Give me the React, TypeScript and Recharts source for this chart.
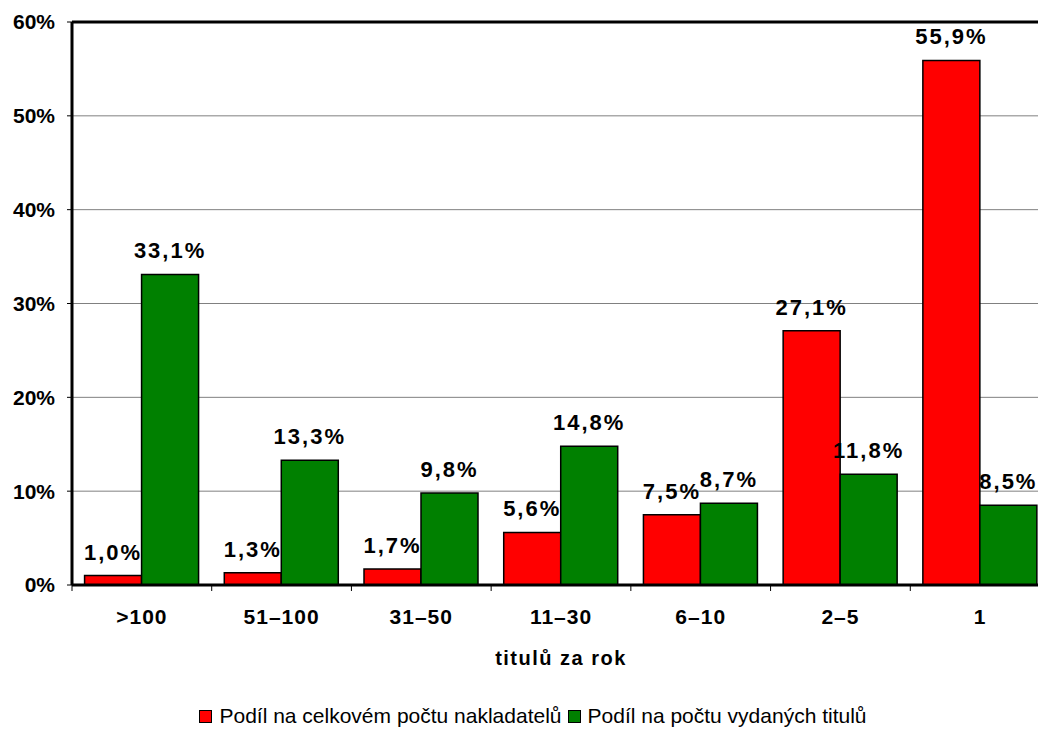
import React from 'react';
import { BarChart, Bar, XAxis, YAxis, CartesianGrid, Legend, LabelList, ReferenceLine, Label } from 'recharts';

const categories = ['>100', '51–100', '31–50', '11–30', '6–10', '2–5', '1'];
const publishersShare = [1.0, 1.3, 1.7, 5.6, 7.5, 27.1, 55.9];
const titlesShare = [33.1, 13.3, 9.8, 14.8, 8.7, 11.8, 8.5];
const yTicks = [0, 10, 20, 30, 40, 50, 60];

const seriesNames = ['Podíl na celkovém počtu nakladatelů', 'Podíl na počtu vydaných titulů'];
const seriesColors = ['#FF0000', '#008000'];

const data = categories.map((c, i) => ({
  name: c,
  publishers: publishersShare[i],
  titles: titlesShare[i],
}));

const FONT = '"Liberation Sans", Arial, sans-serif';

const fmt = (v: any) => `${Number(v).toFixed(1).replace('.', ',')}%`;

function CategoryTick(props: any) {
  const { x, y, payload, width, visibleTicksCount } = props;
  const bw = width / visibleTicksCount;
  return (
    <g>
      <line x1={x - bw / 2} y1={y} x2={x - bw / 2} y2={y + 6} stroke="#000" strokeWidth={1} />
      <text x={x} y={y + 39} textAnchor="middle" fontFamily={FONT} fontWeight="bold" fontSize={21}
        letterSpacing={1} fill="#000">
        {payload.value}
      </text>
    </g>
  );
}

function LegendContent() {
  return (
    <div style={{ display: 'flex', justifyContent: 'center', fontFamily: FONT, fontSize: 21, lineHeight: '22px',
      color: '#000', paddingTop: 8, paddingLeft: 22 }}>
      {seriesNames.map((n, i) => (
        <span key={n} style={{ display: 'inline-flex', alignItems: 'center', marginRight: 6 }}>
          <span style={{ width: 11, height: 11, background: seriesColors[i], border: '1.5px solid #000',
            marginRight: 7, display: 'inline-block' }} />
          {n}
        </span>
      ))}
    </div>
  );
}

export default function App() {
  return (
    <div style={{ position: 'absolute', left: 0, top: 0, width: 1038, height: 733, overflow: 'hidden', background: '#fff' }}>
      <BarChart
        width={1065}
        height={733}
        data={data}
        margin={{ top: 22, right: 15, left: 0, bottom: 0 }}
        barCategoryGap="9%"
        barGap={0}
      >
        <CartesianGrid vertical={false} stroke="#808080" strokeWidth={1} />
        <XAxis
          dataKey="name"
          axisLine={{ stroke: '#000', strokeWidth: 3 }}
          tickLine={false}
          tickSize={0}
          tickMargin={0}
          height={112}
          tick={<CategoryTick />}
          interval={0}
        >
          <Label
            value="titulů za rok"
            position="insideBottom"
            offset={32}
            style={{ fontFamily: FONT, fontWeight: 'bold', fontSize: 20, letterSpacing: 1.5, fill: '#000' }}
          />
        </XAxis>
        <YAxis
          width={72}
          domain={[0, 60]}
          ticks={yTicks}
          interval={0}
          tickFormatter={(v) => `${v}%`}
          axisLine={{ stroke: '#000', strokeWidth: 3 }}
          tickLine={{ stroke: '#000' }}
          tickSize={5}
          tickMargin={12}
          tick={{ fontFamily: FONT, fontWeight: 'bold', fontSize: 21, fill: '#000' }}
        />
        <ReferenceLine y={60} stroke="#000" strokeWidth={3} />
        <Legend height={36} content={<LegendContent />} />
        <Bar dataKey="publishers" name={seriesNames[0]} fill={seriesColors[0]} stroke="#000" strokeWidth={1.5} isAnimationActive={false}>
          <LabelList dataKey="publishers" position="top" offset={16} formatter={fmt}
            style={{ fontFamily: FONT, fontWeight: 'bold', fontSize: 22, letterSpacing: 2, fill: '#000' }} />
        </Bar>
        <Bar dataKey="titles" name={seriesNames[1]} fill={seriesColors[1]} stroke="#000" strokeWidth={1.5} isAnimationActive={false}>
          <LabelList dataKey="titles" position="top" offset={16} formatter={fmt}
            style={{ fontFamily: FONT, fontWeight: 'bold', fontSize: 22, letterSpacing: 2, fill: '#000' }} />
        </Bar>
      </BarChart>
    </div>
  );
}
